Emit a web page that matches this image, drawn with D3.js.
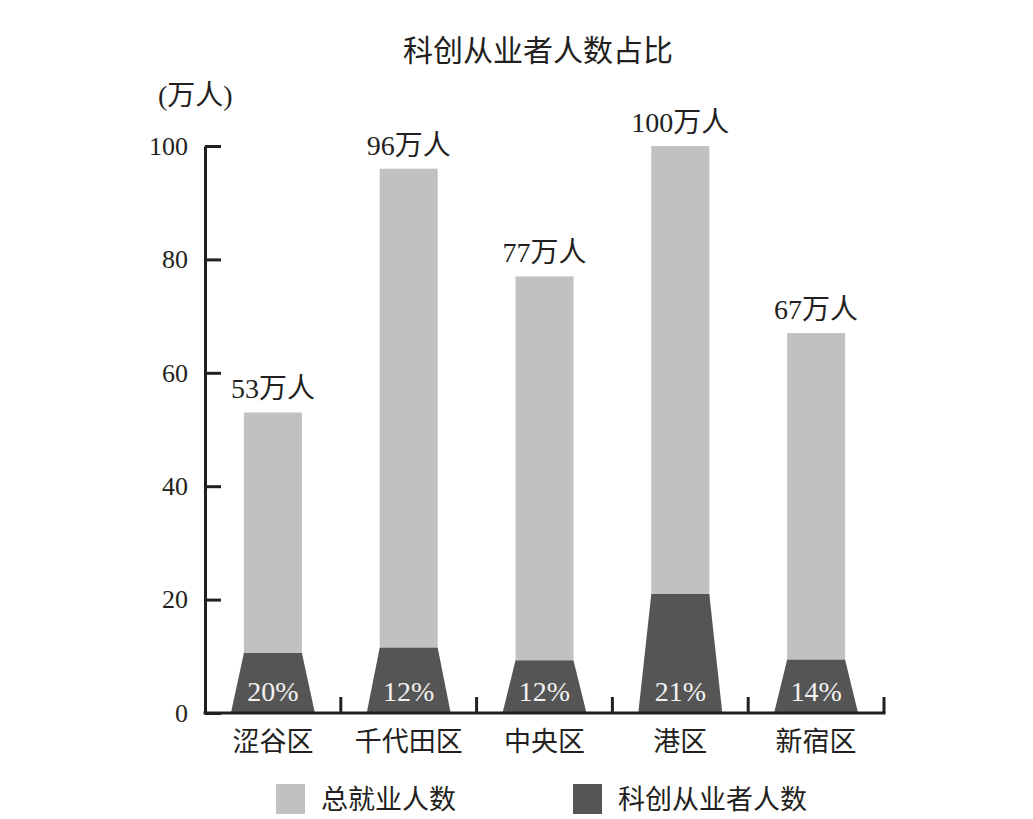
<!DOCTYPE html>
<meta charset="utf-8">
<style>
  body { margin: 0; background: #fff; }
  text { font-family: "Liberation Serif", "Noto Sans CJK SC", serif; fill: #231f20; }
</style>
<body>
<script src="https://cdn.jsdelivr.net/npm/d3@7/dist/d3.min.js"></script>
<script>
// data
const districts = ["涩谷区", "千代田区", "中央区", "港区", "新宿区"];
const totalWorkers = [53, 96, 77, 100, 67];       // 万人
const techShare = [0.20, 0.12, 0.12, 0.21, 0.14];  // 科创从业者占比
const yTicks = [0, 20, 40, 60, 80, 100];
const seriesNames = ["总就业人数", "科创从业者人数"];

const W = 1033, H = 819;
const plot = { left: 205, right: 884, top: 146, bottom: 713 };
const colors = { total: "#c0c1c1", tech: "#555555", ink: "#231f20" };

const rows = districts.map((d, i) => ({
  name: d, total: totalWorkers[i], share: techShare[i], tech: totalWorkers[i] * techShare[i]
}));

const x = d3.scaleBand().domain(districts).range([plot.left, plot.right]);
const y = d3.scaleLinear().domain([0, 100]).range([plot.bottom, plot.top]);

const barW = 58, baseW = 84;

const svg = d3.select("body").append("svg")
  .attr("width", W).attr("height", H);

// title and unit
svg.append("text").attr("x", 538).attr("y", 61)
  .attr("text-anchor", "middle").style("font-size", "30px")
  .text("科创从业者人数占比");
svg.append("text").attr("x", 158).attr("y", 105)
  .style("font-size", "28px").text("(万人)");

// light bars for total
svg.append("g").selectAll("rect")
  .data(rows).join("rect")
  .attr("x", d => x(d.name) + x.bandwidth() / 2 - barW / 2)
  .attr("y", d => y(d.total))
  .attr("width", barW)
  .attr("height", d => y(0) - y(d.total))
  .attr("fill", colors.total);

// dark trapezoids for tech workers
svg.append("g").selectAll("path")
  .data(rows).join("path")
  .attr("d", d => {
    const c = x(d.name) + x.bandwidth() / 2;
    const t = y(d.tech), b = y(0);
    return `M${c - baseW / 2},${b}L${c - barW / 2},${t}L${c + barW / 2},${t}L${c + baseW / 2},${b}Z`;
  })
  .attr("fill", colors.tech);

// percent labels
svg.append("g").selectAll("text")
  .data(rows).join("text")
  .attr("x", d => x(d.name) + x.bandwidth() / 2)
  .attr("y", 701)
  .attr("text-anchor", "middle")
  .style("font-size", "28px")
  .style("fill", "#f2f2f2")
  .text(d => Math.round(d.share * 100) + "%");

// total labels above bars
svg.append("g").selectAll("text")
  .data(rows).join("text")
  .attr("x", d => x(d.name) + x.bandwidth() / 2)
  .attr("y", d => y(d.total) - 14)
  .attr("text-anchor", "middle")
  .style("font-size", "28px")
  .text(d => d.total + "万人");

// y axis, ticks pointing inward
const yAxis = d3.axisLeft(y).tickValues(yTicks)
  .tickSizeInner(-16).tickSizeOuter(0).tickPadding(17);
const gy = svg.append("g").attr("transform", `translate(${plot.left},0)`).call(yAxis);
gy.select(".domain").attr("stroke", colors.ink).attr("stroke-width", 3);
gy.selectAll(".tick line").attr("stroke", colors.ink).attr("stroke-width", 3);
gy.selectAll(".tick text").style("font-size", "26px")
  .attr("font-family", null).attr("fill", colors.ink);

// x axis with ticks at band boundaries pointing up
const gx = svg.append("g");
gx.append("line")
  .attr("x1", plot.left - 1.5).attr("x2", plot.right + 1.5)
  .attr("y1", y(0)).attr("y2", y(0))
  .attr("stroke", colors.ink).attr("stroke-width", 3);
gx.selectAll("line.tk")
  .data(districts).join("line")
  .attr("class", "tk")
  .attr("x1", d => x(d) + x.bandwidth()).attr("x2", d => x(d) + x.bandwidth())
  .attr("y1", y(0)).attr("y2", y(0) - 16)
  .attr("stroke", colors.ink).attr("stroke-width", 3);
gx.selectAll("text")
  .data(districts).join("text")
  .attr("x", d => x(d) + x.bandwidth() / 2)
  .attr("y", 751)
  .attr("text-anchor", "middle")
  .style("font-size", "27px")
  .text(d => d);

// legend
const legendX = [276, 573];
const lg = svg.append("g").selectAll("g")
  .data(seriesNames).join("g")
  .attr("transform", (d, i) => `translate(${legendX[i]},784)`);
lg.append("rect").attr("width", 29).attr("height", 30)
  .attr("fill", (d, i) => i === 0 ? colors.total : colors.tech);
lg.append("text").attr("x", 45).attr("y", 25)
  .style("font-size", "27px").text(d => d);
</script>
</body>
